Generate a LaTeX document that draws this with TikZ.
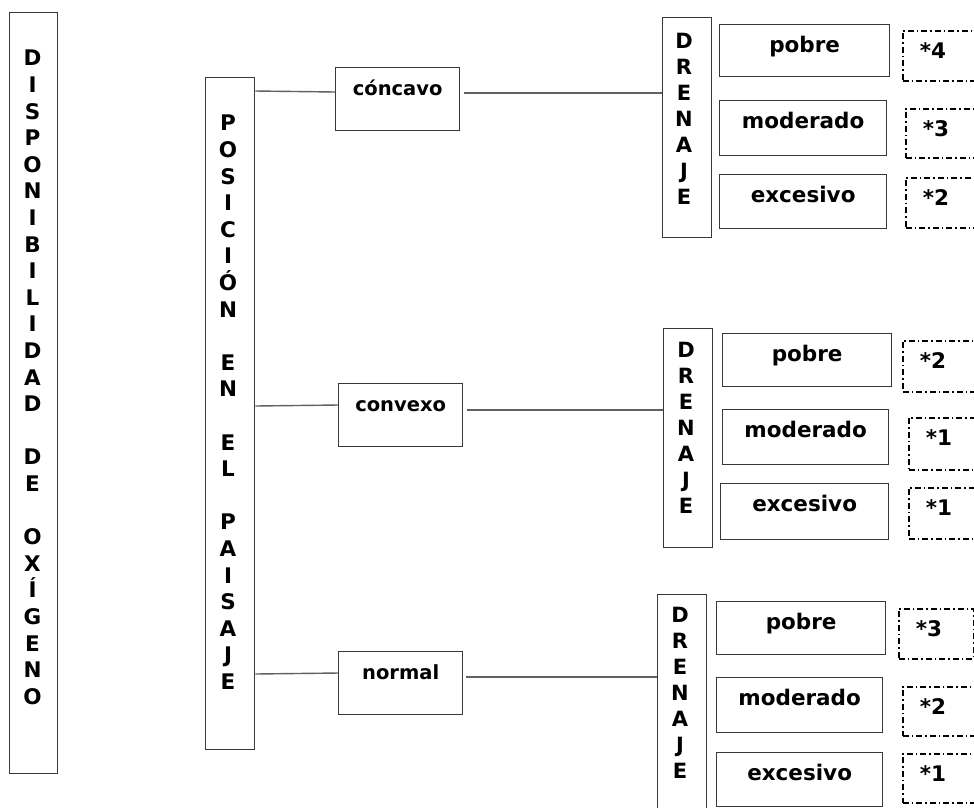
\documentclass[tikz,border=0pt]{standalone}
\usepackage{fontspec}
\setmainfont{DejaVu Sans}
\begin{document}
\begin{tikzpicture}[x=1pt,y=-1pt,
 frame/.style={draw=black!78, line width=1.3pt, inner sep=0pt, anchor=north west},
 col/.style={font=\bfseries\fontsize{21.5}{26.6}\selectfont, align=center, inner sep=0pt, anchor=north},
 drcol/.style={font=\bfseries\fontsize{21}{26}\selectfont, align=center, inner sep=0pt, anchor=north},
 catbox/.style={frame, font=\bfseries\fontsize{19.5}{22}\selectfont, text height=28pt, text depth=35pt, minimum width=124pt},
 optbox/.style={frame, font=\bfseries\fontsize{21.5}{24}\selectfont, text height=28pt},
 valbox/.style={draw=black, line width=1.8pt, dash pattern=on 6pt off 3pt on 1.5pt off 3pt, font=\bfseries\fontsize{21.5}{24}\selectfont, inner xsep=17pt, inner ysep=0pt, text width=41pt, align=left, text height=28pt, anchor=north west},
 link/.style={draw=black!62, line width=1.4pt}]
\useasboundingbox (0,0) rectangle (974,807);
\fill[white] (0,0) rectangle (974,807);
\begin{scope}
\clip (0,0) rectangle (974,807);
% main columns
\node[frame, minimum width=48pt, minimum height=761pt] (disp) at (9,12) {};
\node[col] (dispT) at (32.5,50) {D\\I\\S\\P\\O\\N\\I\\B\\I\\L\\I\\D\\A\\D\\~\\D\\E\\~\\O\\X\\Í\\G\\E\\N\\O};
\node[frame, minimum width=49pt, minimum height=672pt] (pos) at (205,77) {};
\node[col] (posT) at (228,115) {P\\O\\S\\I\\C\\I\\Ó\\N\\~\\E\\N\\~\\E\\L\\~\\P\\A\\I\\S\\A\\J\\E};
% categories
\node[catbox] (conc) at (335,67) {cóncavo};
\node[catbox] (conv) at (338,383) {convexo};
\node[catbox] (norm) at (338,651) {normal};
% drenaje columns
\node[frame, minimum width=49pt, minimum height=220pt] (dr1) at (662,17) {};
\node[drcol] (dr1T) at (684,33) {D\\R\\E\\N\\A\\J\\E};
\node[frame, minimum width=49pt, minimum height=219pt] (dr2) at (663,328) {};
\node[drcol] (dr2T) at (686,342) {D\\R\\E\\N\\A\\J\\E};
\node[frame, minimum width=49pt, minimum height=222pt] (dr3) at (657,594) {};
\node[drcol] (dr3T) at (680,607) {D\\R\\E\\N\\A\\J\\E};
% links
\draw[link] (pos.east |- 0,91) -- (conc.west |- 0,92);
\draw[link] (pos.east |- 0,406) -- (conv.west |- 0,405);
\draw[link] (pos.east |- 0,674) -- (norm.west |- 0,673);
\draw[link, shorten <=4pt] (conc.east |- 0,93) -- (dr1.west |- 0,93);
\draw[link, shorten <=4pt] (conv.east |- 0,410) -- (dr2.west |- 0,410);
\draw[link, shorten <=3pt] (norm.east |- 0,677) -- (dr3.west |- 0,677);
% options group 1
\node[optbox, minimum width=170pt, text depth=24pt] (p1) at (719,24) {pobre};
\node[optbox, minimum width=167pt, text depth=27pt] (m1) at (719,100) {moderado};
\node[optbox, minimum width=167pt, text depth=26pt] (e1) at (719,174) {excesivo};
% options group 2
\node[optbox, minimum width=169pt, text depth=25pt] (p2) at (722,333) {pobre};
\node[optbox, minimum width=166pt, text depth=27pt] (m2) at (722,409) {moderado};
\node[optbox, minimum width=168pt, text depth=28pt] (e2) at (720,483) {excesivo};
% options group 3
\node[optbox, minimum width=169pt, text depth=25pt] (p3) at (716,601) {pobre};
\node[optbox, minimum width=166pt, text depth=27pt] (m3) at (716,677) {moderado};
\node[optbox, minimum width=166pt, text depth=26pt] (e3) at (716,752) {excesivo};
% values
\node[valbox, text depth=22pt] (v1a) at (902,30) {*4};
\node[valbox, text depth=21pt] (v1b) at (905,108) {*3};
\node[valbox, text depth=22pt] (v1c) at (905,177) {*2};
\node[valbox, text depth=23pt] (v2a) at (902,340) {*2};
\node[valbox, text depth=24pt] (v2b) at (908,417) {*1};
\node[valbox, text depth=23pt] (v2c) at (908,487) {*1};
\node[valbox, text depth=22pt] (v3a) at (898,608) {*3};
\node[valbox, text depth=21pt] (v3b) at (902,686) {*2};
\node[valbox, text depth=21pt] (v3c) at (902,753) {*1};
\end{scope}
\end{tikzpicture}
\end{document}
